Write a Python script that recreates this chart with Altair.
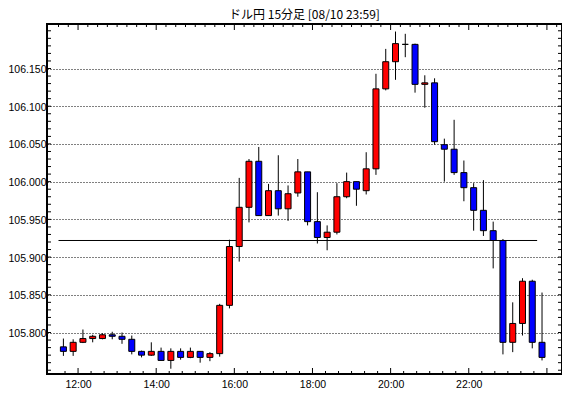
import altair as alt
import pandas as pd

# ---- data (15-minute candles, USD/JPY) ----
times = ["11:30", "11:45", "12:00", "12:15", "12:30", "12:45", "13:00", "13:15", "13:30", "13:45",
         "14:00", "14:15", "14:30", "14:45", "15:00", "15:15", "15:30", "15:45", "16:00", "16:15",
         "16:30", "16:45", "17:00", "17:15", "17:30", "17:45", "18:00", "18:15", "18:30", "18:45",
         "19:00", "19:15", "19:30", "19:45", "20:00", "20:15", "20:30", "20:45", "21:00", "21:15",
         "21:30", "21:45", "22:00", "22:15", "22:30", "22:45", "23:00", "23:15", "23:30", "23:45"]
opens = [105.781, 105.775, 105.787, 105.792, 105.792, 105.797, 105.795, 105.791, 105.775, 105.770,
         105.775, 105.763, 105.775, 105.767, 105.775, 105.767, 105.772, 105.836, 105.914, 105.966,
         106.027, 105.955, 105.988, 105.964, 105.985, 106.013, 105.947, 105.926, 105.933, 105.980,
         106.000, 105.988, 106.017, 106.123, 106.159, 106.182, 106.182, 106.129, 106.131, 106.049,
         106.043, 106.012, 105.992, 105.962, 105.935, 105.922, 105.787, 105.812, 105.868, 105.787]
highs = [105.792, 105.791, 105.804, 105.797, 105.799, 105.801, 105.800, 105.796, 105.776, 105.787,
         105.780, 105.779, 105.779, 105.780, 105.775, 105.774, 105.838, 105.923, 106.005, 106.030,
         106.046, 105.997, 106.035, 105.995, 106.030, 106.013, 105.986, 105.942, 105.998, 106.012,
         106.000, 106.039, 106.143, 106.176, 106.199, 106.196, 106.183, 106.141, 106.137, 106.057,
         106.082, 106.028, 105.998, 106.002, 105.947, 105.924, 105.840, 105.872, 105.870, 105.853]
lows = [105.769, 105.769, 105.786, 105.787, 105.791, 105.791, 105.785, 105.771, 105.767, 105.769,
        105.763, 105.752, 105.764, 105.766, 105.760, 105.762, 105.768, 105.832, 105.894, 105.946,
        105.955, 105.955, 105.955, 105.948, 105.980, 105.942, 105.918, 105.909, 105.930, 105.978,
        105.968, 105.983, 106.009, 106.121, 106.135, 106.165, 106.118, 106.098, 106.049, 106.000,
        106.009, 105.974, 105.935, 105.928, 105.885, 105.771, 105.774, 105.796, 105.779, 105.763]
closes = [105.775, 105.787, 105.792, 105.795, 105.797, 105.795, 105.791, 105.775, 105.770, 105.775,
          105.763, 105.775, 105.767, 105.775, 105.767, 105.772, 105.836, 105.914, 105.966, 106.027,
          105.955, 105.988, 105.964, 105.984, 106.013, 105.947, 105.926, 105.933, 105.980, 106.000,
          105.990, 106.017, 106.123, 106.159, 106.183, 106.182, 106.129, 106.131, 106.053, 106.043,
          106.012, 105.992, 105.962, 105.935, 105.922, 105.787, 105.812, 105.868, 105.787, 105.767]

ref_level = 105.922
ref_from = "11:30"
ref_to = "23:45"

title_text = "ドル円 15分足 [08/10 23:59]"
y_label_values = [105.80, 105.85, 105.90, 105.95, 106.00, 106.05, 106.10, 106.15]
x_label_hours = [12, 14, 16, 18, 20, 22]

# tick mark positions (axis decoration)
y_minor_ticks = [round(105.75 + 0.01 * i, 2) for i in range(46)]
bottom_ticks = [11 + 40 / 60 + i / 3 for i in range(37)]     # every 20 min
top_ticks = [11.5 + i / 4 for i in range(52)]               # every 15 min
major_hours = [12, 14, 16, 18, 20, 22, 24]


def to_hours(s):
    h, m = s.split(":")
    return int(h) + int(m) / 60


W, H = 515, 350
BAR = 0.25  # 15 minutes in hours

df = pd.DataFrame({"time": times, "open": opens, "high": highs, "low": lows, "close": closes})
df["t"] = df["time"].map(to_hours) + BAR / 2
df["dir"] = ["up" if c >= o else "down" for o, c in zip(opens, closes)]

xs = alt.Scale(domain=[11 + 20 / 60, 24 + 15.5 / 60], nice=False, zero=False)
ys = alt.Scale(domain=[105.745, 106.209], nice=False, zero=False)

label_font = "Liberation Sans"

x_axis = alt.Axis(values=x_label_hours, labelExpr="datum.value + ':00'", grid=False, ticks=False,
                  domain=False, labelPadding=5, labelFont=label_font, labelFontSize=10.5,
                  labelColor="black", title=None)
y_axis = alt.Axis(values=y_label_values, format=".3f", grid=True, gridDash=[1, 2], gridColor="black",
                  gridOpacity=1, gridWidth=1, ticks=False, domain=False, labelPadding=1,
                  labelOffset=1, labelFont=label_font, labelFontSize=10.5, labelColor="black",
                  title=None)

base = alt.Chart(df)

wicks = base.mark_rule(color="black", strokeWidth=1).encode(
    x=alt.X("t:Q", scale=xs, axis=x_axis),
    y=alt.Y("low:Q", scale=ys, axis=y_axis),
    y2="high:Q",
)

bodies = base.mark_bar(size=6, stroke="black", strokeWidth=1).encode(
    x=alt.X("t:Q", scale=xs, axis=x_axis),
    y=alt.Y("open:Q", scale=ys, axis=y_axis),
    y2="close:Q",
    color=alt.Color("dir:N", scale=alt.Scale(domain=["up", "down"], range=["#ff0000", "#0000ff"]),
                    legend=None),
)

ref_df = pd.DataFrame({"x1": [to_hours(ref_from)], "x2": [to_hours(ref_to)], "y": [ref_level]})
ref_line = alt.Chart(ref_df).mark_rule(color="black", strokeWidth=1).encode(
    x=alt.X("x1:Q", scale=xs, axis=x_axis), x2="x2:Q",
    y=alt.Y("y:Q", scale=ys, axis=y_axis),
)

ytk = pd.DataFrame({"v": y_minor_ticks})
left_ticks = alt.Chart(ytk).mark_rule(color="black", strokeWidth=1).encode(
    y=alt.Y("v:Q", scale=ys, axis=y_axis), x=alt.value(0), x2=alt.value(4))
right_ticks = alt.Chart(ytk).mark_rule(color="black", strokeWidth=1).encode(
    y=alt.Y("v:Q", scale=ys, axis=y_axis), x=alt.value(W - 4), x2=alt.value(W))


def xticks(vals, y0, y1):
    return alt.Chart(pd.DataFrame({"v": vals})).mark_rule(color="black", strokeWidth=1).encode(
        x=alt.X("v:Q", scale=xs, axis=x_axis), y=alt.value(y0), y2=alt.value(y1))


bmin = xticks([v for v in bottom_ticks if round(v, 3) not in major_hours], H, H - 3)
bmaj = xticks(major_hours, H, H - 6)
tmin = xticks([v for v in top_ticks if v not in major_hours], 0, 3)
tmaj = xticks(major_hours, 0, 6)

title_mark = alt.Chart(pd.DataFrame({"label": [title_text]})).mark_text(
    font="Noto Sans CJK JP", fontSize=12, color="black", align="center", baseline="middle"
).encode(text="label:N", x=alt.value(W / 2), y=alt.value(-9))

chart = alt.layer(
    wicks, left_ticks, right_ticks, bmin, bmaj, tmin, tmaj, ref_line, bodies, title_mark
).properties(
    width=W, height=H,
    autosize=alt.AutoSizeParams(type="none"),
    padding={"left": 39, "top": 16, "right": 0, "bottom": 16},
    background="white",
).configure_view(stroke="black", strokeWidth=2)

chart.save("out.html", embed_options={"renderer": "svg", "actions": False})
